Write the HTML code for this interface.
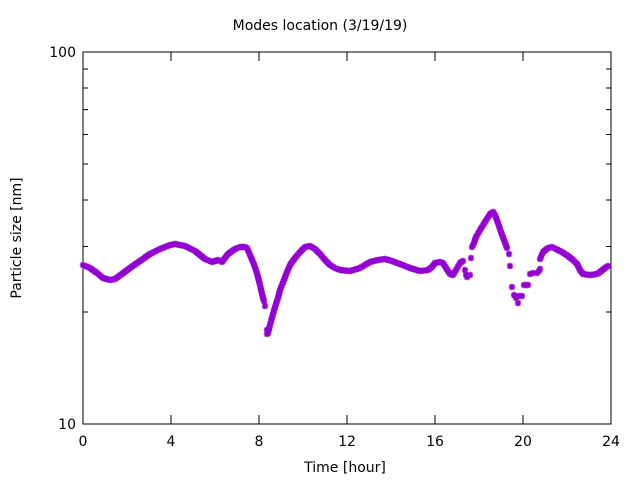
<!DOCTYPE html>
<html><head><meta charset="utf-8"><style>
html,body{margin:0;padding:0;background:#fff;}
svg{display:block;font-family:"DejaVu Sans","Liberation Sans",sans-serif;}
</style></head><body>
<svg id="s" width="640" height="480" viewBox="0 0 640 480" xmlns="http://www.w3.org/2000/svg">
<defs><path id="m" d="M-3.2,0H3.2M0,-3.2V3.2M-2.4,-2.4L2.4,2.4M-2.4,2.4L2.4,-2.4" stroke="#9400d3" stroke-width="1.6"/></defs>
<rect x="83" y="52" width="528" height="372" fill="none" stroke="#000" stroke-width="1"/>
<g id="ticks" stroke="#000" stroke-width="1"></g>
<g font-size="14" fill="#000">
<text x="320" y="30" text-anchor="middle">Modes location (3/19/19)</text>
<text x="76" y="57" text-anchor="end">100</text>
<text x="76" y="429" text-anchor="end">10</text>
<text x="83" y="446" text-anchor="middle">0</text>
<text x="171" y="446" text-anchor="middle">4</text>
<text x="259" y="446" text-anchor="middle">8</text>
<text x="347" y="446" text-anchor="middle">12</text>
<text x="435" y="446" text-anchor="middle">16</text>
<text x="523" y="446" text-anchor="middle">20</text>
<text x="611" y="446" text-anchor="middle">24</text>
<text x="345" y="472" text-anchor="middle">Time [hour]</text>
<text transform="translate(21,238) rotate(-90)" text-anchor="middle">Particle size [nm]</text>
</g>
<g id="pts"></g>
</svg>
<script>
var t=document.getElementById('ticks'),h='';
for(var i=0;i<=6;i++){var x=83+88*i;h+='<path d="M'+x+',424V415M'+x+',52V61"/>';}
for(var v=2;v<=9;v++){var y=424-372*Math.log10(v);h+='<path d="M83,'+y+'H88M611,'+y+'H606"/>';}
h+='<path d="M83,52H92M611,52H602M83,424H92M611,424H602"/>';
t.innerHTML=h;
var segs=[
[[83,265],[90,268],[97,273],[103,278],[110,280],[115,279],[122,274],[130,268],[140,261],[150,254],[160,249],[170,245],[175,244],[185,246],[195,251],[200,255],[205,259],[212,262],[218,260],[222,262],[228,254],[235,249],[240,247],[245,247],[247,248],[250,255],[253,262],[256,270],[258,277],[260,285],[262,294],[264,301]],
[[268,333],[270,325],[273,314],[275,307],[278,298],[280,290],[284,280],[287,272],[290,265],[295,258],[300,252],[305,247],[310,246],[315,249],[320,254],[325,260],[330,265],[335,268],[340,270],[350,271],[360,268],[370,262],[378,260],[385,259],[392,261],[400,264],[410,268],[420,271],[428,270],[432,267],[435,263],[440,262],[443,263],[446,268],[450,274],[453,275],[456,270],[460,263],[463,261]],
[[472,247],[474,243],[476,237],[480,230],[485,222],[490,214],[493,212],[495,215],[498,223],[501,232],[504,240],[507,248]],
[[540,259],[543,252],[548,248],[552,247],[556,249],[562,252],[568,256],[573,260],[577,264],[580,270],[583,274],[590,275],[597,274],[600,272],[605,268],[608,266]]
];
var single=[[265,306],[267,334],[465,270],[467,277],[466,275],[470,275],[471,258],[509,254],[510,266],[512,287],[514,295],[516,298],[518,303],[519,296],[522,296],[524,285],[526,285],[528,285],[530,274],[533,273],[537,273],[539,271],[540,269],[267,330],[263,298]];
var p='';
function add(x,y){p+='<use href="#m" x="'+x.toFixed(1)+'" y="'+y.toFixed(1)+'"/>';}
segs.forEach(function(s){for(var i=0;i<s.length-1;i++){var a=s[i],b=s[i+1];var d=Math.hypot(b[0]-a[0],b[1]-a[1]);var n=Math.max(1,Math.round(d/1.8));for(var k=0;k<n;k++){add(a[0]+(b[0]-a[0])*k/n,a[1]+(b[1]-a[1])*k/n);}}add(s[s.length-1][0],s[s.length-1][1]);});
single.forEach(function(q){add(q[0],q[1]);});
document.getElementById('pts').innerHTML=p;
</script>
</body></html>
